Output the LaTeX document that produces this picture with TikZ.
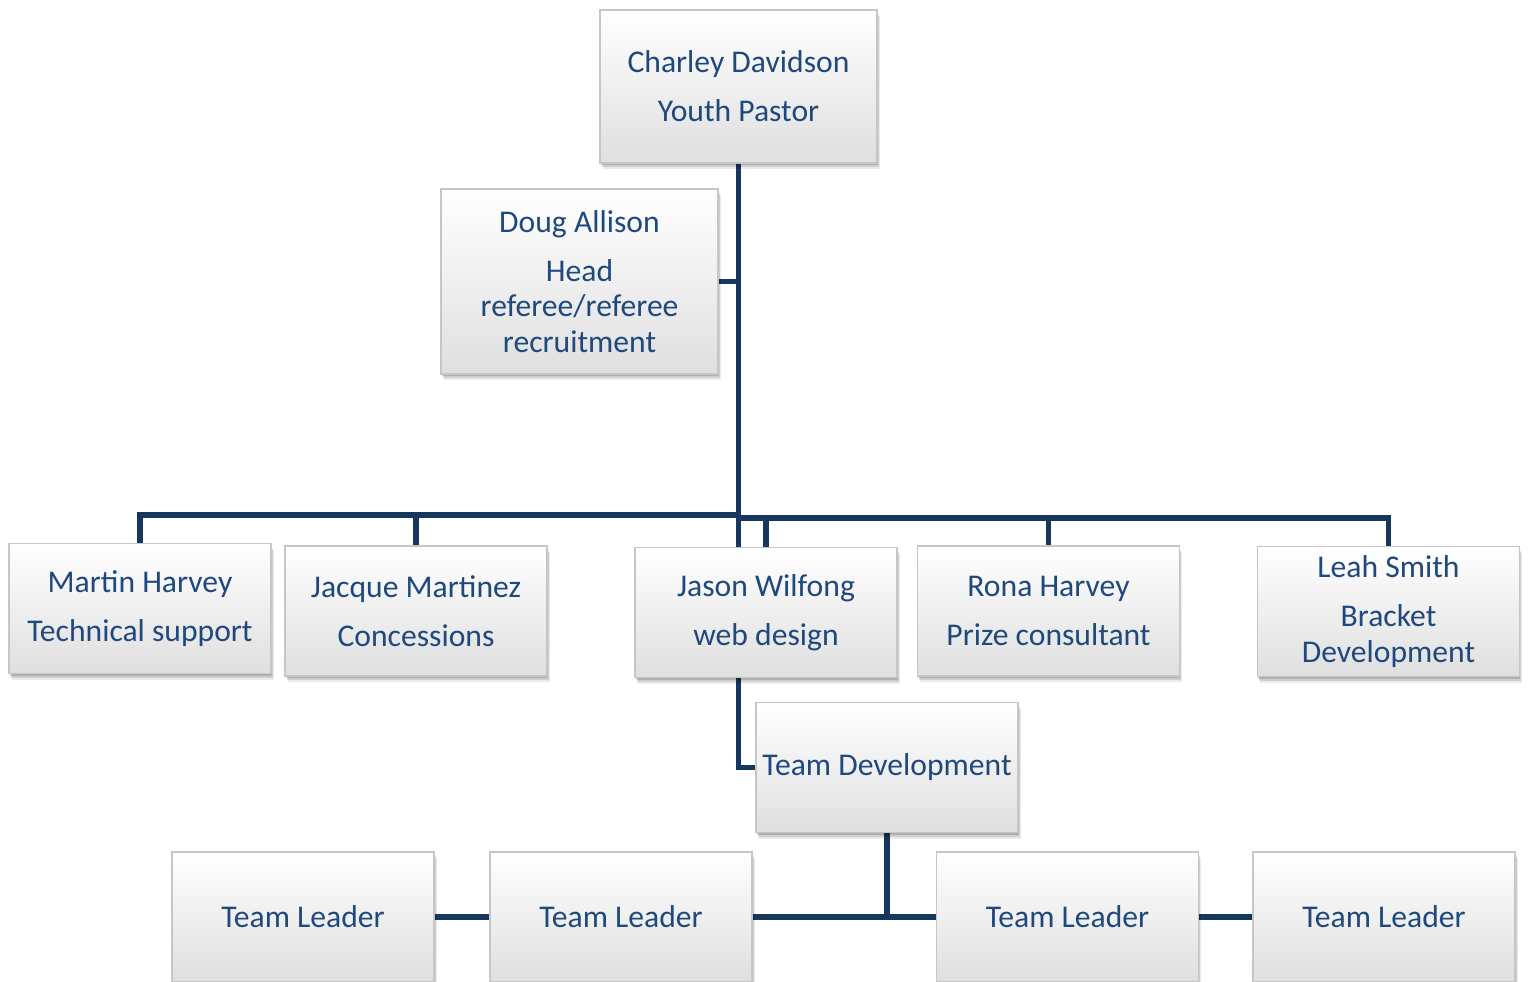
\documentclass[tikz,border=0pt]{standalone}
\usepackage{fontspec}
\setmainfont{Carlito}
\usetikzlibrary{positioning}
\usetikzlibrary{shadows}
\usetikzlibrary{backgrounds}
\definecolor{chartblue}{RGB}{31,73,125}
\definecolor{chartline}{RGB}{23,55,94}
\tikzset{
        chartnode/.style={align=center,inner sep=2pt,font=\fontsize{18}{20}\selectfont},
        % Soft shadow below each box
        soft_shadow/.style={
            drop shadow={shadow xshift=0.5pt, shadow yshift=-1.2pt, opacity=0.15, fill=black},
            drop shadow={shadow xshift=1pt, shadow yshift=-2.4pt, opacity=0.12, fill=black},
            drop shadow={shadow xshift=1.5pt, shadow yshift=-3.6pt, opacity=0.08, fill=black}},
        % Person boxes
        box_person/.style={chartnode, rectangle, text=chartblue, draw=gray!45, line width=0.8pt,
            top color=white, bottom color=gray!25, minimum width=5.24cm, minimum height=2.6cm,
            soft_shadow},
        % Top box
        box_top/.style={box_person, minimum width=5.54cm, minimum height=3.06cm},
        % Assistant box
        box_assist/.style={box_person, minimum width=5.54cm, minimum height=3.7cm},
        % Connectors
        link/.style={draw=chartline, line width=2.9pt}
}
\begin{document}
\begin{tikzpicture}[x=0.02cm, y=-0.02cm]
    \useasboundingbox (0,0) rectangle (1529,982);
    \node[box_top] (charley) at (738.5,86.5) {Charley Davidson\\[8pt]Youth Pastor};
    \node[box_assist] (doug) at (579.5,281.5) {Doug Allison\\[8pt]Head\\referee/referee\\recruitment};
    \node[box_person] (martin) at (140,608.5) {Martin Harvey\\[8pt]Technical support};
    \node[box_person] (jacque) at (416,611) {Jacque Martinez\\[8pt]Concessions};
    \node[box_person] (jason) at (766,612.5) {Jason Wilfong\\[8pt]web design};
    \node[box_person] (rona) at (1048.5,611) {Rona Harvey\\[8pt]Prize consultant};
    \node[box_person] (leah) at (1388.5,611.5) {Leah Smith\\[8pt]Bracket\\Development};
    \node[box_person] (teamdev) at (887,767.5) {Team Development};
    \node[box_person] (leader1) at (303,917) {Team Leader};
    \node[box_person] (leader2) at (621,917) {Team Leader};
    \node[box_person] (leader3) at (1067.5,917) {Team Leader};
    \node[box_person] (leader4) at (1384,917) {Team Leader};
    \coordinate (bus_l) at (738,515);
    \coordinate (bus_r) at (738,518);
    \begin{scope}[on background layer]
        \draw[link] (charley.south) -- (charley.south |- jason.north);
        \draw[link] (doug.east) -- (doug.east -| charley.south);
        \draw[link] (martin.north) |- (bus_l);
        \draw[link] (jacque.north) -- (jacque.north |- bus_l);
        \draw[link] (leah.north) |- (bus_r);
        \draw[link] (rona.north) -- (rona.north |- bus_r);
        \draw[link] (jason.north) -- (jason.north |- bus_r);
        \draw[link] (jason.south -| charley.south) |- (teamdev.west);
        \draw[link] (teamdev.south) -- (teamdev.south |- leader2.east);
        \draw[link] (leader1.east) -- (leader2.west);
        \draw[link] (leader2.east) -- (leader3.west);
        \draw[link] (leader3.east) -- (leader4.west);
    \end{scope}
\end{tikzpicture}
\end{document}
